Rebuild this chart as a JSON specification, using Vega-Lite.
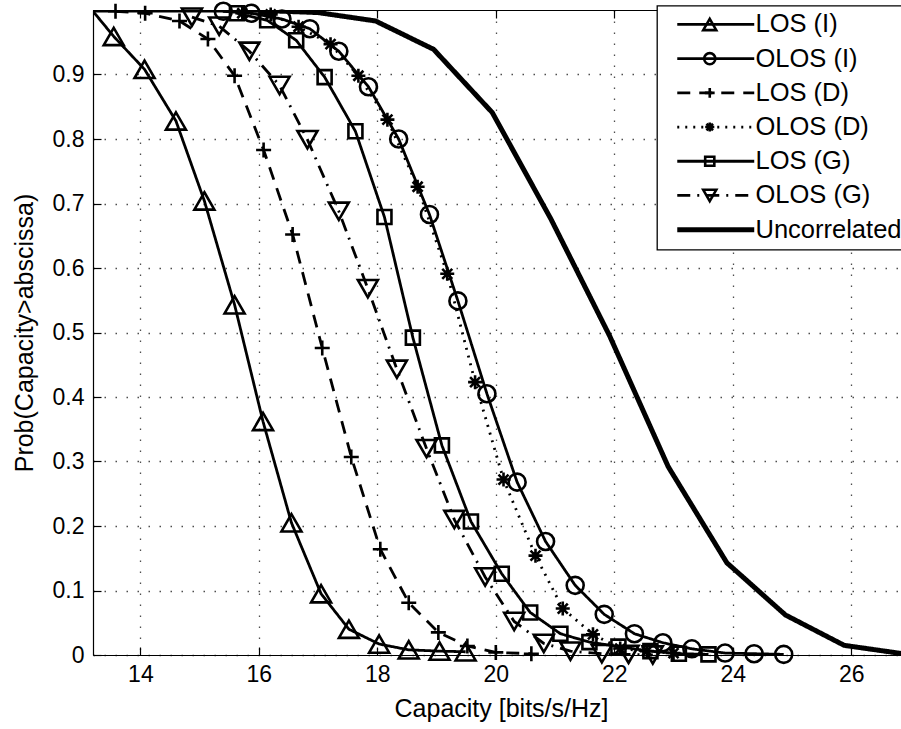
{
  "$schema": "https://vega.github.io/schema/vega-lite/v6.json",
  "width": 808,
  "height": 645,
  "autosize": {"type": "none"},
  "padding": {"left": 93, "top": 10, "right": 0, "bottom": 74},
  "background": "white",
  "config": {"view": {"stroke": null}, "font": "Liberation Sans"},
  "datasets": {
    "curves": [
      {"series": "LOS (I)", "capacity": 13.2, "prob": 0.998},
      {"series": "LOS (I)", "capacity": 13.55, "prob": 0.959},
      {"series": "LOS (I)", "capacity": 14.07, "prob": 0.908},
      {"series": "LOS (I)", "capacity": 14.60, "prob": 0.828},
      {"series": "LOS (I)", "capacity": 15.08, "prob": 0.704},
      {"series": "LOS (I)", "capacity": 15.59, "prob": 0.543},
      {"series": "LOS (I)", "capacity": 16.07, "prob": 0.362},
      {"series": "LOS (I)", "capacity": 16.55, "prob": 0.205},
      {"series": "LOS (I)", "capacity": 17.05, "prob": 0.095},
      {"series": "LOS (I)", "capacity": 17.52, "prob": 0.040},
      {"series": "LOS (I)", "capacity": 18.03, "prob": 0.017},
      {"series": "LOS (I)", "capacity": 18.53, "prob": 0.008},
      {"series": "LOS (I)", "capacity": 19.05, "prob": 0.006},
      {"series": "LOS (I)", "capacity": 19.49, "prob": 0.005},

      {"series": "OLOS (I)", "capacity": 15.40, "prob": 0.998},
      {"series": "OLOS (I)", "capacity": 15.87, "prob": 0.995},
      {"series": "OLOS (I)", "capacity": 16.39, "prob": 0.986},
      {"series": "OLOS (I)", "capacity": 16.86, "prob": 0.971},
      {"series": "OLOS (I)", "capacity": 17.35, "prob": 0.936},
      {"series": "OLOS (I)", "capacity": 17.85, "prob": 0.881},
      {"series": "OLOS (I)", "capacity": 18.36, "prob": 0.800},
      {"series": "OLOS (I)", "capacity": 18.88, "prob": 0.683},
      {"series": "OLOS (I)", "capacity": 19.36, "prob": 0.549},
      {"series": "OLOS (I)", "capacity": 19.85, "prob": 0.405},
      {"series": "OLOS (I)", "capacity": 20.36, "prob": 0.268},
      {"series": "OLOS (I)", "capacity": 20.84, "prob": 0.176},
      {"series": "OLOS (I)", "capacity": 21.34, "prob": 0.108},
      {"series": "OLOS (I)", "capacity": 21.83, "prob": 0.063},
      {"series": "OLOS (I)", "capacity": 22.34, "prob": 0.033},
      {"series": "OLOS (I)", "capacity": 22.82, "prob": 0.019},
      {"series": "OLOS (I)", "capacity": 23.31, "prob": 0.0096},
      {"series": "OLOS (I)", "capacity": 23.87, "prob": 0.003},
      {"series": "OLOS (I)", "capacity": 24.36, "prob": 0.002},
      {"series": "OLOS (I)", "capacity": 24.86, "prob": 0.001},

      {"series": "LOS (D)", "capacity": 13.58, "prob": 0.998},
      {"series": "LOS (D)", "capacity": 14.08, "prob": 0.995},
      {"series": "LOS (D)", "capacity": 14.66, "prob": 0.983},
      {"series": "LOS (D)", "capacity": 15.14, "prob": 0.955},
      {"series": "LOS (D)", "capacity": 15.59, "prob": 0.898},
      {"series": "LOS (D)", "capacity": 16.08, "prob": 0.783},
      {"series": "LOS (D)", "capacity": 16.57, "prob": 0.652},
      {"series": "LOS (D)", "capacity": 17.07, "prob": 0.476},
      {"series": "LOS (D)", "capacity": 17.56, "prob": 0.307},
      {"series": "LOS (D)", "capacity": 18.05, "prob": 0.164},
      {"series": "LOS (D)", "capacity": 18.53, "prob": 0.081},
      {"series": "LOS (D)", "capacity": 19.03, "prob": 0.035},
      {"series": "LOS (D)", "capacity": 19.52, "prob": 0.014},
      {"series": "LOS (D)", "capacity": 20.0, "prob": 0.004},
      {"series": "LOS (D)", "capacity": 20.6, "prob": 0.002},

      {"series": "OLOS (D)", "capacity": 15.72, "prob": 0.995},
      {"series": "OLOS (D)", "capacity": 16.20, "prob": 0.993},
      {"series": "OLOS (D)", "capacity": 16.67, "prob": 0.974},
      {"series": "OLOS (D)", "capacity": 17.21, "prob": 0.947},
      {"series": "OLOS (D)", "capacity": 17.68, "prob": 0.898},
      {"series": "OLOS (D)", "capacity": 18.17, "prob": 0.830},
      {"series": "OLOS (D)", "capacity": 18.68, "prob": 0.726},
      {"series": "OLOS (D)", "capacity": 19.18, "prob": 0.591},
      {"series": "OLOS (D)", "capacity": 19.65, "prob": 0.423},
      {"series": "OLOS (D)", "capacity": 20.13, "prob": 0.272},
      {"series": "OLOS (D)", "capacity": 20.67, "prob": 0.154},
      {"series": "OLOS (D)", "capacity": 21.13, "prob": 0.072},
      {"series": "OLOS (D)", "capacity": 21.64, "prob": 0.032},
      {"series": "OLOS (D)", "capacity": 22.10, "prob": 0.010},
      {"series": "OLOS (D)", "capacity": 22.55, "prob": 0.006},
      {"series": "OLOS (D)", "capacity": 23.0, "prob": 0.003},

      {"series": "LOS (G)", "capacity": 15.63, "prob": 0.995},
      {"series": "LOS (G)", "capacity": 16.14, "prob": 0.984},
      {"series": "LOS (G)", "capacity": 16.63, "prob": 0.953},
      {"series": "LOS (G)", "capacity": 17.11, "prob": 0.896},
      {"series": "LOS (G)", "capacity": 17.63, "prob": 0.812},
      {"series": "LOS (G)", "capacity": 18.12, "prob": 0.679},
      {"series": "LOS (G)", "capacity": 18.60, "prob": 0.492},
      {"series": "LOS (G)", "capacity": 19.09, "prob": 0.325},
      {"series": "LOS (G)", "capacity": 19.58, "prob": 0.207},
      {"series": "LOS (G)", "capacity": 20.10, "prob": 0.126},
      {"series": "LOS (G)", "capacity": 20.58, "prob": 0.066},
      {"series": "LOS (G)", "capacity": 21.09, "prob": 0.033},
      {"series": "LOS (G)", "capacity": 21.58, "prob": 0.020},
      {"series": "LOS (G)", "capacity": 22.07, "prob": 0.013},
      {"series": "LOS (G)", "capacity": 22.61, "prob": 0.006},
      {"series": "LOS (G)", "capacity": 23.09, "prob": 0.002},
      {"series": "LOS (G)", "capacity": 23.59, "prob": 0.001},

      {"series": "OLOS (G)", "capacity": 14.87, "prob": 0.989},
      {"series": "OLOS (G)", "capacity": 15.33, "prob": 0.975},
      {"series": "OLOS (G)", "capacity": 15.84, "prob": 0.936},
      {"series": "OLOS (G)", "capacity": 16.35, "prob": 0.883},
      {"series": "OLOS (G)", "capacity": 16.82, "prob": 0.799},
      {"series": "OLOS (G)", "capacity": 17.35, "prob": 0.688},
      {"series": "OLOS (G)", "capacity": 17.84, "prob": 0.568},
      {"series": "OLOS (G)", "capacity": 18.33, "prob": 0.443},
      {"series": "OLOS (G)", "capacity": 18.83, "prob": 0.320},
      {"series": "OLOS (G)", "capacity": 19.30, "prob": 0.210},
      {"series": "OLOS (G)", "capacity": 19.82, "prob": 0.121},
      {"series": "OLOS (G)", "capacity": 20.31, "prob": 0.052},
      {"series": "OLOS (G)", "capacity": 20.81, "prob": 0.018},
      {"series": "OLOS (G)", "capacity": 21.26, "prob": 0.006},
      {"series": "OLOS (G)", "capacity": 21.79, "prob": 0.002},
      {"series": "OLOS (G)", "capacity": 22.24, "prob": 0.001},
      {"series": "OLOS (G)", "capacity": 22.65, "prob": 0.0},

      {"series": "Uncorrelated", "capacity": 13.0, "prob": 1.0},
      {"series": "Uncorrelated", "capacity": 14.0, "prob": 1.0},
      {"series": "Uncorrelated", "capacity": 15.0, "prob": 1.0},
      {"series": "Uncorrelated", "capacity": 16.0, "prob": 0.9995},
      {"series": "Uncorrelated", "capacity": 17.0, "prob": 0.996},
      {"series": "Uncorrelated", "capacity": 17.97, "prob": 0.983},
      {"series": "Uncorrelated", "capacity": 18.95, "prob": 0.939},
      {"series": "Uncorrelated", "capacity": 19.94, "prob": 0.841},
      {"series": "Uncorrelated", "capacity": 20.93, "prob": 0.676},
      {"series": "Uncorrelated", "capacity": 21.92, "prob": 0.495},
      {"series": "Uncorrelated", "capacity": 22.91, "prob": 0.292},
      {"series": "Uncorrelated", "capacity": 23.90, "prob": 0.143},
      {"series": "Uncorrelated", "capacity": 24.89, "prob": 0.062},
      {"series": "Uncorrelated", "capacity": 25.88, "prob": 0.015},
      {"series": "Uncorrelated", "capacity": 26.87, "prob": 0.002}
    ]
  },
  "data": {"name": "curves"},
  "layer": [
    {
      "mark": {"type": "line", "clip": true, "color": "black"},
      "encoding": {
        "x": {
          "field": "capacity", "type": "quantitative",
          "scale": {"domain": [13.2, 26.84], "nice": false, "zero": false},
          "axis": {
            "orient": "bottom",
            "values": [14, 16, 18, 20, 22, 24, 26],
            "title": "Capacity [bits/s/Hz]",
            "titleFont": "Liberation Sans", "titleFontSize": 25, "titleFontWeight": "normal", "titleColor": "black",
            "titleX": 408, "titleY": 61, "titleBaseline": "alphabetic", "titleAlign": "center",
            "labelFont": "Liberation Sans", "labelFontSize": 23, "labelColor": "black", "labelFlush": false,
            "labelPadding": 16, "labelOverlap": false,
            "domainColor": "black", "domainWidth": 1.2,
            "tickColor": "black", "tickSize": -8, "tickWidth": 1.2,
            "grid": true, "gridColor": "#222", "gridDash": [1.5, 9.5], "gridWidth": 1.3, "gridOpacity": 0.8
          }
        },
        "y": {
          "field": "prob", "type": "quantitative",
          "scale": {"domain": [0, 1], "nice": false, "zero": false},
          "axis": {
            "values": [0, 0.1, 0.2, 0.3, 0.4, 0.5, 0.6, 0.7, 0.8, 0.9],
            "format": ".1~f",
            "title": "Prob(Capacity>abscissa)",
            "titleFont": "Liberation Sans", "titleFontSize": 25, "titleFontWeight": "normal", "titleColor": "black",
            "titleX": -61, "titleY": 322.5, "titleBaseline": "alphabetic", "titleAlign": "center", "titleAngle": 270,
            "labelFont": "Liberation Sans", "labelFontSize": 23, "labelColor": "black", "labelFlush": false,
            "labelPadding": 17, "labelOverlap": false,
            "domainColor": "black", "domainWidth": 1.2,
            "tickColor": "black", "tickSize": -8, "tickWidth": 1.2,
            "grid": true, "gridColor": "#222", "gridDash": [1.5, 9.5], "gridWidth": 1.3, "gridOpacity": 0.8
          }
        },
        "strokeDash": {
          "field": "series", "type": "nominal",
          "scale": {
            "domain": ["LOS (I)", "OLOS (I)", "LOS (D)", "OLOS (D)", "LOS (G)", "OLOS (G)", "Uncorrelated"],
            "range": [[1, 0], [1, 0], [13, 9], [2, 6], [1, 0], [13, 7, 2, 7], [1, 0]]
          },
          "legend": {
            "title": null, "orient": "none", "legendX": 564, "legendY": -4.3,
            "symbolType": "M-5,0L5,0", "symbolSize": 237, "symbolStrokeColor": "black", "symbolOffset": 40,
            "labelFont": "Liberation Sans", "labelFontSize": 25.5, "labelColor": "black", "labelOffset": 27, "labelLimit": 300,
            "rowPadding": 7.2, "padding": 6,
            "fillColor": "white", "strokeColor": "black", "zindex": 1,
            "encode": {
              "legend": {"update": {"strokeWidth": {"value": 1.3}}},
              "symbols": {"update": {"size": {"value": 237}, "stroke": {"value": "black"}}}
            }
          }
        },
        "strokeWidth": {
          "field": "series", "type": "nominal",
          "scale": {
            "type": "ordinal",
            "domain": ["LOS (I)", "OLOS (I)", "LOS (D)", "OLOS (D)", "LOS (G)", "OLOS (G)", "Uncorrelated"],
            "range": [2.8, 2.8, 2.8, 2.8, 2.8, 2.8, 5]
          },
          "legend": {
            "title": null, "orient": "none", "legendX": 564, "legendY": -4.3,
            "symbolType": "M-5,0L5,0", "symbolSize": 237, "symbolStrokeColor": "black", "symbolOffset": 40,
            "labelFont": "Liberation Sans", "labelFontSize": 25.5, "labelColor": "black", "labelOffset": 27, "labelLimit": 300,
            "rowPadding": 7.2, "padding": 6,
            "fillColor": "white", "strokeColor": "black", "zindex": 1,
            "encode": {
              "legend": {"update": {"strokeWidth": {"value": 1.3}}},
              "symbols": {"update": {"size": {"value": 237}, "stroke": {"value": "black"}}}
            }
          }
        }
      }
    },
    {
      "transform": [{"filter": "datum.series != 'Uncorrelated' && datum.capacity > 13.2"}],
      "mark": {"type": "point", "filled": false, "size": 400, "strokeWidth": 2.6, "color": "black", "opacity": 1, "clip": false},
      "encoding": {
        "x": {
          "field": "capacity", "type": "quantitative",
          "scale": {"domain": [13.2, 26.84], "nice": false, "zero": false},
          "axis": {
            "orient": "top", "values": [14, 16, 18, 20, 22, 24, 26], "labels": false, "title": null,
            "grid": false, "domainColor": "black", "domainWidth": 1.2,
            "tickColor": "black", "tickSize": -8, "tickWidth": 1.2
          }
        },
        "y": {
          "field": "prob", "type": "quantitative",
          "scale": {"domain": [0, 1], "nice": false, "zero": false},
          "axis": {
            "values": [0, 0.1, 0.2, 0.3, 0.4, 0.5, 0.6, 0.7, 0.8, 0.9],
            "format": ".1~f",
            "title": "Prob(Capacity>abscissa)",
            "titleFont": "Liberation Sans", "titleFontSize": 25, "titleFontWeight": "normal", "titleColor": "black",
            "titleX": -61, "titleY": 322.5, "titleBaseline": "alphabetic", "titleAlign": "center", "titleAngle": 270,
            "labelFont": "Liberation Sans", "labelFontSize": 23, "labelColor": "black", "labelFlush": false,
            "labelPadding": 17, "labelOverlap": false,
            "domainColor": "black", "domainWidth": 1.2,
            "tickColor": "black", "tickSize": -8, "tickWidth": 1.2,
            "grid": true, "gridColor": "#222", "gridDash": [1.5, 9.5], "gridWidth": 1.3, "gridOpacity": 0.8
          }
        },
        "shape": {
          "field": "series", "type": "nominal",
          "scale": {
            "domain": ["LOS (I)", "OLOS (I)", "LOS (D)", "OLOS (D)", "LOS (G)", "OLOS (G)"],
            "range": [
              "M0,-0.866L1,0.866L-1,0.866Z",
              "M0.85,0A0.85,0.85,0,1,1,-0.85,0A0.85,0.85,0,1,1,0.85,0Z",
              "M-0.75,0L0.75,0M0,-0.75L0,0.75",
              "M-0.7,0L0.7,0M0,-0.7L0,0.7M-0.5,-0.5L0.5,0.5M-0.5,0.5L0.5,-0.5",
              "M-0.7,-0.7L0.7,-0.7L0.7,0.7L-0.7,0.7Z",
              "M0,0.866L1,-0.866L-1,-0.866Z"
            ]
          },
          "legend": {
            "title": null, "orient": "none", "legendX": 564, "legendY": -4.3,
            "symbolSize": 170, "symbolOffset": 34, "symbolStrokeColor": "black", "symbolStrokeWidth": 2.6,
            "symbolFillColor": "transparent",
            "labelFont": "Liberation Sans", "labelFontSize": 25.5, "labelColor": "black", "labelOffset": 76,
            "labelExpr": "'\u200b'",
            "rowPadding": 7.2, "padding": 6, "zindex": 2,
            "encode": {"symbols": {"update": {"size": {"value": 170}, "stroke": {"value": "black"}, "strokeWidth": {"value": 2.6}, "fill": {"value": "transparent"}, "opacity": {"value": 1}}}}
          }
        }
      }
    }
  ],
  "resolve": {"axis": {"x": "independent"}}
}
